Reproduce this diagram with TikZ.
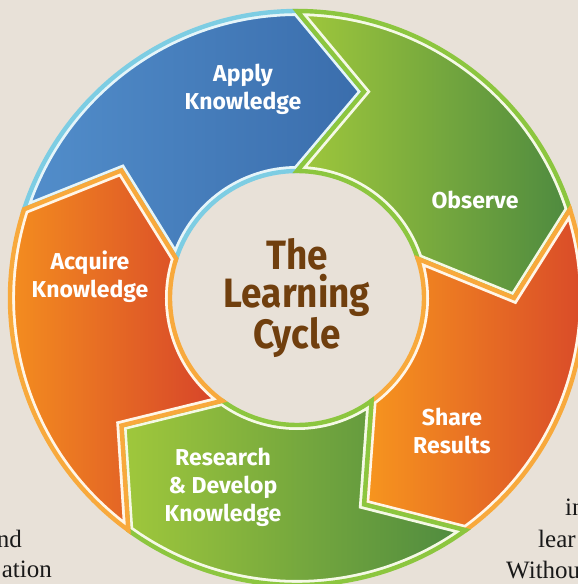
\documentclass[tikz,border=0pt]{standalone}
\usepackage{fontspec}
\newfontfamily\cyclefont{Fira Sans}
\newfontfamily\titlefont{Fira Sans}[FakeStretch=0.9]
\newfontfamily\pagefont{Liberation Serif}
\definecolor{paper}{HTML}{E8E1D8}
\definecolor{titlebrown}{HTML}{703F0E}
\definecolor{blueleft}{HTML}{528ECB}
\definecolor{blueright}{HTML}{3A6DAC}
\definecolor{blueedge}{HTML}{7DCDE3}
\definecolor{bluecream}{HTML}{E6F5F9}
\definecolor{greenleft}{HTML}{A0C83C}
\definecolor{greenright}{HTML}{4E8A3F}
\definecolor{greenedge}{HTML}{8CC63F}
\definecolor{greencream}{HTML}{F5F9E6}
\definecolor{orangeleft}{HTML}{F7961E}
\definecolor{orangeright}{HTML}{D6422A}
\definecolor{orangeedge}{HTML}{F8A93C}
\definecolor{orangecream}{HTML}{FFF6E8}
% one arrow of the ring: tail at #1, head 72 degrees further clockwise
\newcommand\cyclepath[1]{(#1:287) arc[start angle=#1,end angle=#1-72,radius=287]
  -- (#1-90:217) -- (#1-72:127) arc[start angle=#1-72,end angle=#1,radius=127]
  -- (#1-18:217) -- cycle}
% #1 tail angle, #2 colour set
\newcommand\cyclearrow[2]{%
  \fill[#2 fill] \cyclepath{#1};
  \begin{scope}
    \clip \cyclepath{#1};
    \draw[#2cream,line width=10pt] \cyclepath{#1};
  \end{scope}
  \draw[#2edge,line width=4.4pt] \cyclepath{#1};}
\tikzset
{
  blue fill/.style={left color=blueleft,right color=blueright},
  green fill/.style={left color=greenleft,right color=greenright},
  orange fill/.style={left color=orangeleft,right color=orangeright},
  step label/.style={text=white,align=center,inner sep=0pt,
    font=\cyclefont\bfseries\fontsize{23}{28}\selectfont},
  cycle title/.style={text=titlebrown,align=center,inner sep=0pt,
    font=\titlefont\bfseries\fontsize{41}{38}\selectfont},
  page text/.style={text=black!90,inner sep=0pt,font=\pagefont\fontsize{25}{30}\selectfont}
}

\begin{document}
\begin{tikzpicture}[x=1pt,y=1pt,line join=miter,miter limit=10]
  % page
  \clip (-297,-286) rectangle (281,298);
  \fill[paper] (-297,-286) rectangle (281,298);
  % the five arrows, clockwise from the top left
  \cyclearrow{162}{blue}
  \cyclearrow{90}{green}
  \cyclearrow{18}{orange}
  \cyclearrow{-54}{green}
  \cyclearrow{-126}{orange}
  % labels
  \node[step label] (apply)    at (-54,209)  {Apply\\Knowledge};
  \node[step label] (observe)  at (178,98)   {Observe};
  \node[step label] (share)    at (155,-133) {Share\\Results};
  \node[step label] (research) at (-74,-189) {Research\\\& Develop\\Knowledge};
  \node[step label] (acquire)  at (-207,21)  {Acquire\\Knowledge};
  \node[cycle title] (title)   at (0,0)      {The\\Learning\\Cycle};
  % running text cut by the page
  \node[page text,anchor=base east] (leftone) at (-275,-249) {nd};
  \node[page text,anchor=base east] (lefttwo) at (-245,-279) {ation};
  \node[page text,anchor=base west] (rightone)   at (268,-217) {in};
  \node[page text,anchor=base west] (righttwo)   at (241,-249) {lear};
  \node[page text,anchor=base west] (rightthree) at (209,-280) {Withou};
\end{tikzpicture}
\end{document}
